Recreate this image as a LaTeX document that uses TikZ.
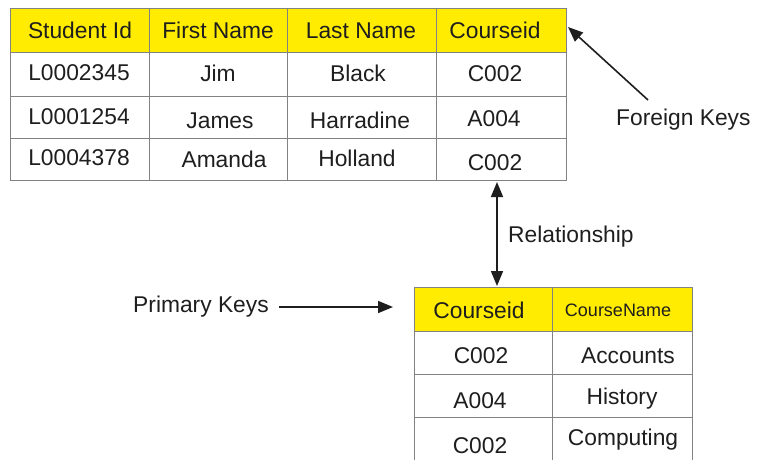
\documentclass[tikz,border=0pt]{standalone}
\usepackage{fontspec}
\setmainfont{Liberation Sans}
\usetikzlibrary{arrows.meta}
\definecolor{hdr}{RGB}{255,236,0}
\definecolor{grid}{RGB}{130,130,130}
\definecolor{ink}{RGB}{30,30,30}
\tikzset{
  cell/.style={draw=grid, line width=1.2pt, inner sep=0pt, anchor=north west},
  hcell/.style={cell, fill=hdr},
  txt/.style={inner sep=0pt, text=ink, font=\fontsize{22.8}{24}\selectfont, text height=16pt, text depth=0pt, anchor=center},
  stxt/.style={txt, font=\fontsize{18}{20}\selectfont, text height=13pt},
  arr/.style={line width=1.6pt, ink, -{Triangle[length=15pt,width=12pt]}},
  darr/.style={line width=1.6pt, ink, {Triangle[length=15pt,width=12pt]}-{Triangle[length=15pt,width=12pt]}}
}
\begin{document}
\begin{tikzpicture}[x=1pt,y=-1pt]
\useasboundingbox (0,0) rectangle (757,459);
% ---- top table cells
\node[hcell, minimum width=139pt, minimum height=44pt] (h1) at (10,8) {};
\node[hcell, minimum width=138pt, minimum height=44pt] (h2) at (149,8) {};
\node[hcell, minimum width=149pt, minimum height=44pt] (h3) at (287,8) {};
\node[hcell, minimum width=130pt, minimum height=44pt] (h4) at (436,8) {};
\foreach \r/\y/\hh in {1/52/44,2/96/42,3/138/42}{
  \node[cell, minimum width=139pt, minimum height=\hh pt] (r\r c1) at (10,\y) {};
  \node[cell, minimum width=138pt, minimum height=\hh pt] (r\r c2) at (149,\y) {};
  \node[cell, minimum width=149pt, minimum height=\hh pt] (r\r c3) at (287,\y) {};
  \node[cell, minimum width=130pt, minimum height=\hh pt] (r\r c4) at (436,\y) {};
}
% top table text
\node[txt] (t11) at (80,30) {Student Id};
\node[txt] (t12) at (218,30) {First Name};
\node[txt] (t13) at (361,30) {Last Name};
\node[txt] (t14) at (495,30) {Courseid};
\node[txt] (t21) at (79,72) {L0002345};
\node[txt] (t22) at (218,73) {Jim};
\node[txt] (t23) at (358,73) {Black};
\node[txt] (t24) at (495,73) {C002};
\node[txt] (t31) at (79,116) {L0001254};
\node[txt] (t32) at (220,120) {James};
\node[txt] (t33) at (360,120) {Harradine};
\node[txt] (t34) at (494,118) {A004};
\node[txt] (t41) at (79,157) {L0004378};
\node[txt] (t42) at (224,159) {Amanda};
\node[txt] (t43) at (357,158) {Holland};
\node[txt] (t44) at (495,162) {C002};
% ---- bottom table cells
\node[hcell, minimum width=138pt, minimum height=44pt] (bh1) at (414,287) {};
\node[hcell, minimum width=140pt, minimum height=44pt] (bh2) at (552,287) {};
\foreach \r/\y in {1/331,2/374,3/417}{
  \node[cell, minimum width=138pt, minimum height=43pt] (b\r c1) at (414,\y) {};
  \node[cell, minimum width=140pt, minimum height=43pt] (b\r c2) at (552,\y) {};
}
\node[txt] (s11) at (479,310) {Courseid};
\node[stxt] (s12) at (618,310) {CourseName};
\node[txt] (s21) at (481,355) {C002};
\node[txt] (s22) at (628,355) {Accounts};
\node[txt] (s31) at (480,400) {A004};
\node[txt] (s32) at (622,396) {History};
\node[txt] (s41) at (480,445) {C002};
\node[txt] (s42) at (623,437) {Computing};
% ---- labels
\node[txt, anchor=west] (fk) at (616,117) {Foreign Keys};
\node[txt, anchor=west] (rel) at (508,234) {Relationship};
\node[txt, anchor=west] (pk) at (133,304) {Primary Keys};
\coordinate (fkt) at (648,100);
\coordinate (fkh) at (568,27);
\coordinate (ra) at (497,182);
\coordinate (rb) at (497,286);
\coordinate (pa) at (279,307);
\coordinate (pb) at (393,307);
\draw[arr] (fkt) -- (fkh);
\draw[darr] (ra) -- (rb);
\draw[arr] (pa) -- (pb);
\end{tikzpicture}
\end{document}
